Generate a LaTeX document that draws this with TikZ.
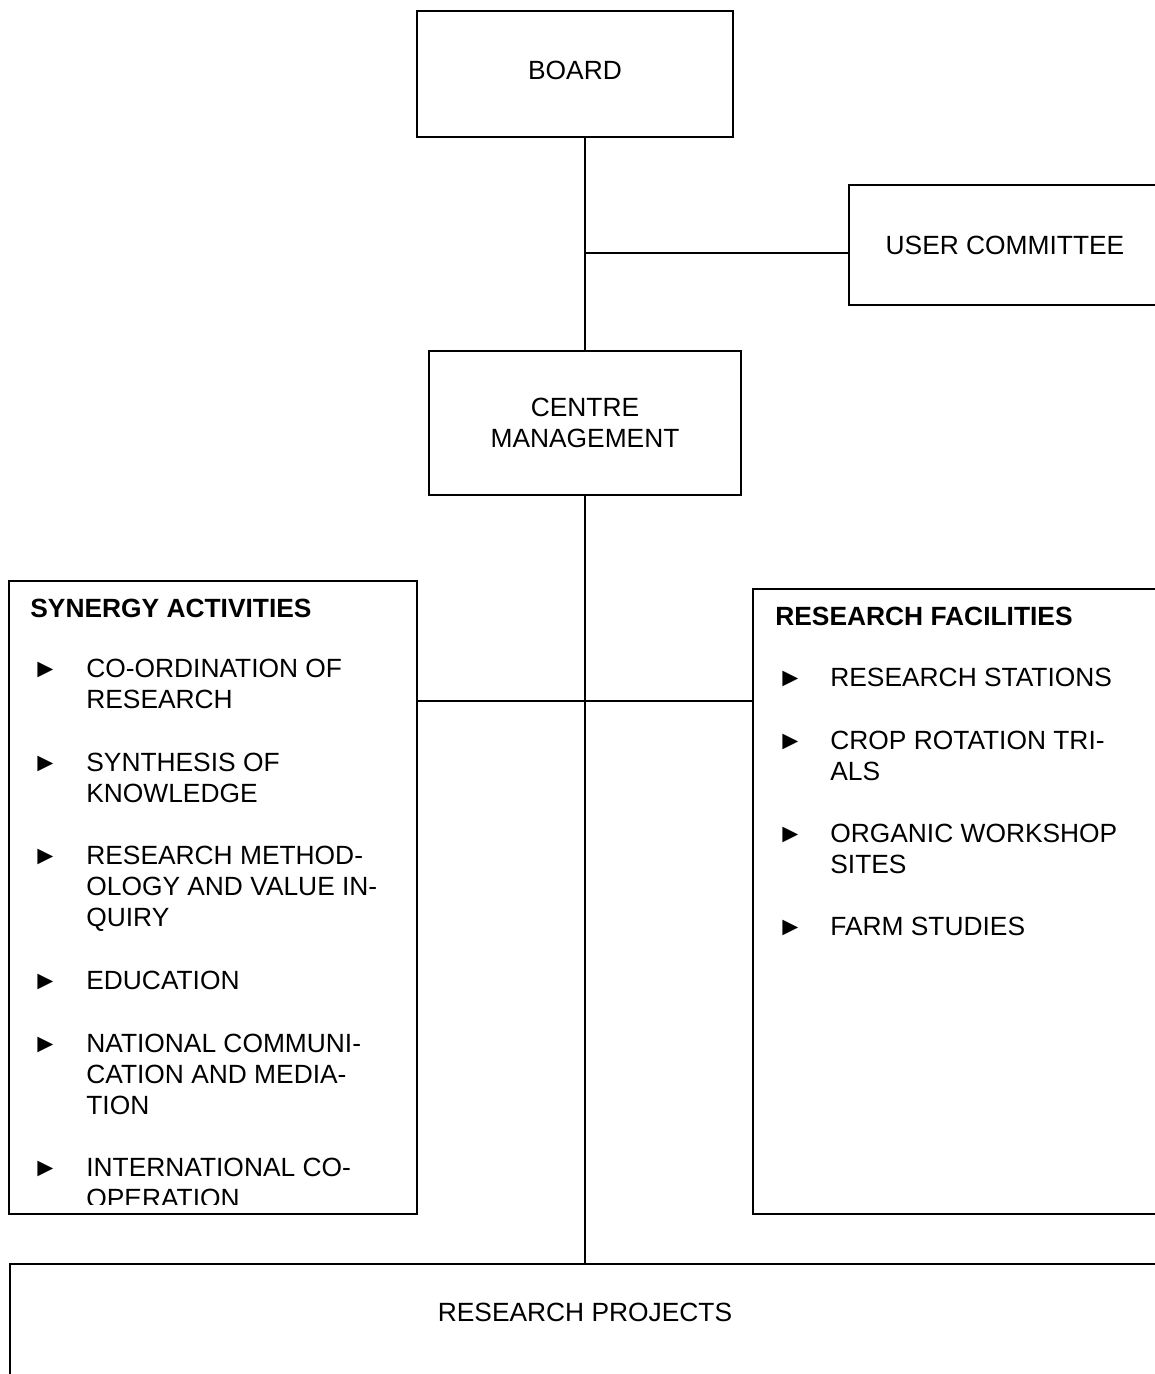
\documentclass[tikz,border=0pt]{standalone}
\usepackage{fontspec}
\setmainfont{Liberation Sans}
\usetikzlibrary{positioning}

\newcommand{\chartfont}{\fontsize{15pt}{17.6pt}\selectfont}

\tikzset{
  box/.style={draw, line width=1.1pt, rectangle, inner sep=0pt, align=center},
  head/.style={anchor=base west, inner sep=0pt, font=\chartfont\bfseries},
  itm/.style={anchor=north west, inner sep=0pt, align=left},
  bul/.style={anchor=base west, inner sep=0pt},
}

\begin{document}
\begin{tikzpicture}[x=0.02cm, y=-0.02cm, font=\chartfont]
\useasboundingbox (0,0) rectangle (1155,1374);
\clip (0,0) rectangle (1155,1374);

\node[box, minimum width=6.32cm, minimum height=2.52cm, text depth=0.16cm] (board) at (575,74) {BOARD};
\node[box, minimum width=6.24cm, minimum height=2.4cm] (user) at (1005,245) {USER COMMITTEE};
\node[box, minimum width=6.24cm, minimum height=2.88cm] (mgmt) at (585,423) {CENTRE\\MANAGEMENT};
\node[box, minimum width=8.16cm, minimum height=12.66cm] (syn) at (213,897.5) {};
\node[box, minimum width=8.16cm, minimum height=12.5cm] (fac) at (957,901.5) {};
\node[box, minimum width=23.04cm, minimum height=3cm, anchor=north west] (proj) at (9,1263) {};
\node (projtext) at (585,1312) {RESEARCH PROJECTS};

\coordinate (ujoin) at (585,253);
\coordinate (hjoin) at (585,701);
\draw[line width=1.1pt] (mgmt.north |- board.south) -- (mgmt.north);
\draw[line width=1.1pt] (ujoin) -- (ujoin -| user.west);
\draw[line width=1.1pt] (mgmt.south) -- (mgmt.south |- proj.north);
\draw[line width=1.1pt] (hjoin -| syn.east) -- (hjoin -| fac.west);

\begin{scope}
\clip (syn.north west) rectangle ([yshift=0.2cm]syn.south east);
\node[head] (synhead) at (30,617.5) {SYNERGY ACTIVITIES};
\node[bul] (sb1) at (32,677.5) {►};
\node[itm] (s1) at (86,658.5) {CO-ORDINATION OF\\RESEARCH};
\node[bul] (sb2) at (32,771.5) {►};
\node[itm] (s2) at (86,752.5) {SYNTHESIS OF\\KNOWLEDGE};
\node[bul] (sb3) at (32,864.5) {►};
\node[itm] (s3) at (86,845.5) {RESEARCH METHOD-\\OLOGY AND VALUE IN-\\QUIRY};
\node[bul] (sb4) at (32,989.5) {►};
\node[itm] (s4) at (86,970.5) {EDUCATION};
\node[bul] (sb5) at (32,1052.5) {►};
\node[itm] (s5) at (86,1033.5) {NATIONAL COMMUNI-\\CATION AND MEDIA-\\TION};
\node[bul] (sb6) at (32,1176.5) {►};
\node[itm] (s6) at (86,1157.5) {INTERNATIONAL CO-\\OPERATION};
\end{scope}

\node[head] (fachead) at (775,625.5) {RESEARCH FACILITIES};
\node[bul] (fb1) at (777,686.5) {►};
\node[itm] (f1) at (830,667.5) {RESEARCH STATIONS};
\node[bul] (fb2) at (777,749.5) {►};
\node[itm] (f2) at (830,730.5) {CROP ROTATION TRI-\\ALS};
\node[bul] (fb3) at (777,842.5) {►};
\node[itm] (f3) at (830,823.5) {ORGANIC WORKSHOP\\SITES};
\node[bul] (fb4) at (777,935.5) {►};
\node[itm] (f4) at (830,916.5) {FARM STUDIES};
\end{tikzpicture}
\end{document}
